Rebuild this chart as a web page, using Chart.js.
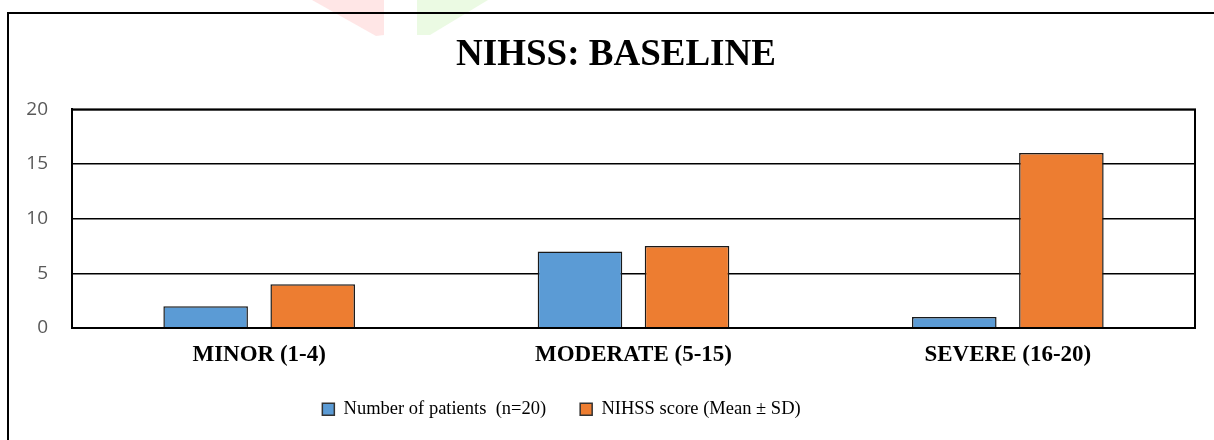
<!DOCTYPE html>
<html>
<head>
<meta charset="utf-8">
<script src="https://cdn.jsdelivr.net/npm/chart.js@4"></script>
<style>
  html, body { margin: 0; padding: 0; background: #fff; }
  #wrap { width: 1214px; height: 440px; }
</style>
</head>
<body>
<div id="wrap"><canvas id="bar-chart"></canvas></div>
<script>
const CATEGORIES = ["MINOR (1-4)", "MODERATE (5-15)", "SEVERE (16-20)"];
const PATIENTS = [2, 7, 1];
const NIHSS_SCORE = [4, 7.5, 16];
const SERIES_NAMES = ["Number of patients  (n=20)", "NIHSS score (Mean \u00b1 SD)"];
const Y_TICKS = [0, 5, 10, 15, 20];

// page frame, faint watermark, plot border, title/legend nudge
const framePlugin = {
  id: "frame",
  afterLayout(chart) {
    const tb = chart.titleBlock;
    tb.left += 18.5;
    tb.right += 18.5;
    const lg = chart.legend;
    lg.left -= 36;
    lg.right -= 36;
    lg.top -= 2;
    lg.bottom -= 2;
  },
  beforeDraw(chart) {
    const ctx = chart.ctx;
    ctx.save();
    ctx.fillStyle = "rgba(255, 200, 200, 0.45)";
    ctx.beginPath();
    ctx.moveTo(312, 0); ctx.lineTo(384, 0); ctx.lineTo(384, 35); ctx.lineTo(376, 36);
    ctx.closePath(); ctx.fill();
    ctx.fillStyle = "rgba(215, 245, 200, 0.5)";
    ctx.beginPath();
    ctx.moveTo(417, 0); ctx.lineTo(488, 0); ctx.lineTo(430, 35); ctx.lineTo(417, 35);
    ctx.closePath(); ctx.fill();
    ctx.strokeStyle = "#000";
    ctx.lineWidth = 2;
    ctx.strokeRect(8, 13, 1300, 500);
    ctx.restore();
  },
  afterDatasetsDraw(chart) {
    const a = chart.chartArea;
    const ctx = chart.ctx;
    ctx.save();
    ctx.strokeStyle = "#000";
    ctx.lineWidth = 2;
    ctx.strokeRect(a.left, a.top, a.right - a.left, a.bottom - a.top);
    ctx.restore();
  },
};

const BCHART = document.getElementById("bar-chart");

let barChart = new Chart(BCHART, {
  type: "bar",
  data: {
    labels: CATEGORIES,
    datasets: [
      {
        label: SERIES_NAMES[0],
        data: PATIENTS,
        backgroundColor: "#5B9BD5",
        borderColor: "#1a1a1a",
        borderWidth: 1.5,
        categoryPercentage: 0.572,
        barPercentage: 0.79,
      },
      {
        label: SERIES_NAMES[1],
        data: NIHSS_SCORE,
        backgroundColor: "#ED7D31",
        borderColor: "#1a1a1a",
        borderWidth: 1.5,
        categoryPercentage: 0.572,
        barPercentage: 0.79,
      },
    ],
  },
  options: {
    responsive: true,
    maintainAspectRatio: false,
    animation: false,
    layout: { padding: { left: 0, right: 19, top: 0, bottom: 9.5 } },
    plugins: {
      title: {
        display: true,
        text: "NIHSS: BASELINE",
        color: "#000",
        font: { family: "Liberation Serif", size: 37, weight: "bold" },
        padding: { top: 33, bottom: 32 },
      },
      legend: {
        position: "bottom",
        labels: {
          color: "#000",
          font: { family: "Liberation Serif", size: 18.5 },
          boxWidth: 12,
          boxHeight: 12,
          padding: 34,
          generateLabels(chart) {
            return chart.data.datasets.map((ds, i) => ({
              text: ds.label,
              fillStyle: ds.backgroundColor,
              strokeStyle: "#333",
              lineWidth: 1.5,
              hidden: false,
              datasetIndex: i,
              fontColor: "#000",
            }));
          },
        },
      },
      tooltip: { enabled: false },
    },
    scales: {
      x: {
        afterFit(scale) { scale.height = 40; },
        grid: { display: false, drawTicks: false },
        border: { color: "#000", width: 2 },
        ticks: {
          color: "#000",
          padding: 13,
          font: { family: "Liberation Serif", size: 23, weight: "bold" },
        },
      },
      y: {
        min: 0,
        max: 20,
        afterFit(scale) { scale.width = 72; },
        afterBuildTicks(scale) { scale.ticks = Y_TICKS.map((v) => ({ value: v })); },
        grid: { color: "#000", lineWidth: 1.5, drawTicks: false },
        border: { color: "#000", width: 2 },
        ticks: {
          color: "#595959",
          padding: 24,
          font: { family: "Open Sans", size: 19 },
        },
      },
    },
  },
  plugins: [framePlugin],
});
</script>
</body>
</html>
